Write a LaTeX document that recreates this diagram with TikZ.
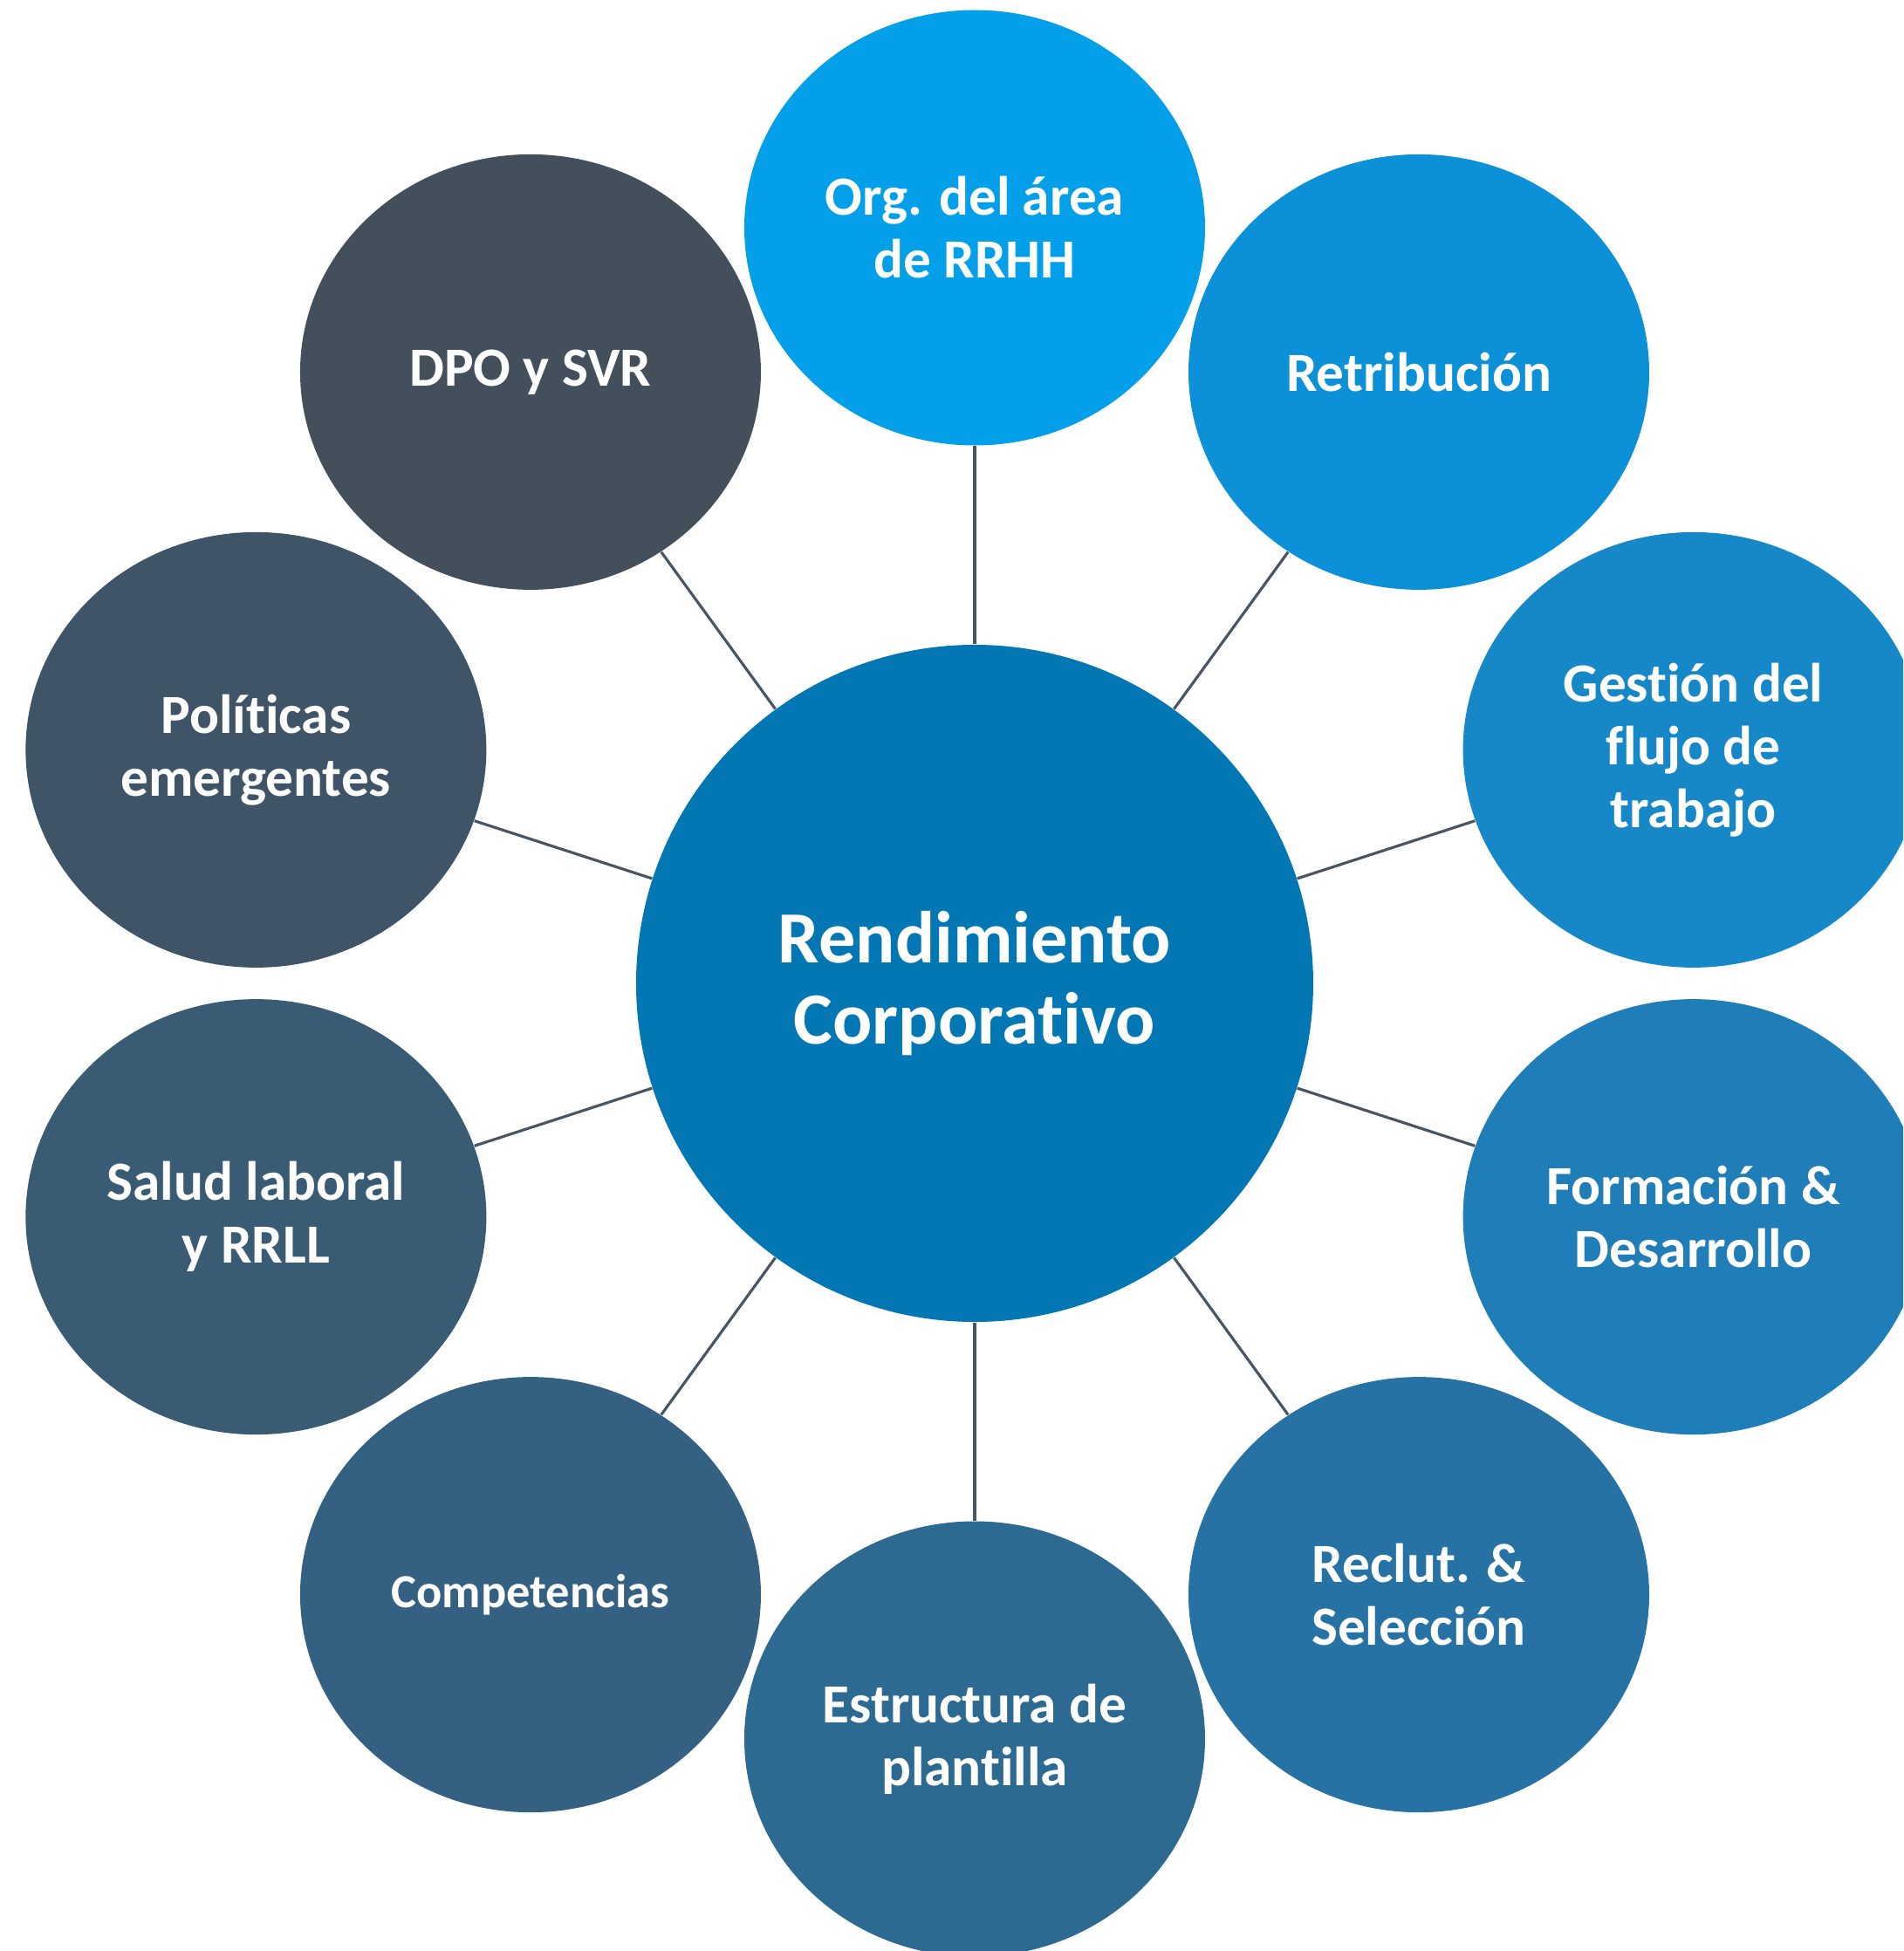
\documentclass[tikz,border=0pt]{standalone}
\usepackage{fontspec}
\setmainfont{Carlito}[RawFeature={-liga;-clig;-dlig;-calt}]
\usetikzlibrary{shapes.geometric}

\definecolor{azulorg}{HTML}{03A0E9}
\definecolor{azulret}{HTML}{0C91D8}
\definecolor{azulges}{HTML}{1688C8}
\definecolor{azulfor}{HTML}{1F7DB7}
\definecolor{azulrec}{HTML}{2672A4}
\definecolor{azulest}{HTML}{2D6A91}
\definecolor{azulcom}{HTML}{346081}
\definecolor{azulsal}{HTML}{3A5B74}
\definecolor{azulpol}{HTML}{3F5567}
\definecolor{azuldpo}{HTML}{434F5B}
\definecolor{azulcentro}{HTML}{0277B4}
\definecolor{gris}{HTML}{495560}

\tikzset{
  burbuja/.style={ellipse, minimum width=5.28cm, minimum height=4.99cm, inner sep=0pt,
    text=white, align=center, font=\bfseries\fontsize{18}{20.5}\selectfont},
  centro/.style={circle, minimum size=7.76cm, inner sep=0pt, fill=azulcentro,
    text=white, align=center, font=\bfseries\fontsize{24}{26.5}\selectfont},
  enlace/.style={draw=gris, line width=0.9pt}
}

\begin{document}
\begin{tikzpicture}

    % marco
    \useasboundingbox (-11.17,-11.09) rectangle (10.64,11.27);
    \clip (-11.17,-11.09) rectangle (10.64,11.27);

    % circulo central
    \node [centro] (rend) at (0,0) {Rendimiento\\Corporativo};

    % burbujas alrededor
    \node [burbuja, fill=azulorg] (org) at (90:8.66) {Org. del área\\de RRHH};
    \node [burbuja, fill=azulret] (ret) at (54:8.66) {Retribución};
    \node [burbuja, fill=azulges] (ges) at (18:8.66) {Gestión del\\flujo de\\trabajo};
    \node [burbuja, fill=azulfor] (for) at (-18:8.66) {Formación \&\\Desarrollo};
    \node [burbuja, fill=azulrec] (rec) at (-54:8.66) {Reclut. \&\\Selección};
    \node [burbuja, fill=azulest] (est) at (-90:8.66) {Estructura de\\plantilla};
    \node [burbuja, fill=azulcom, font=\bfseries\fontsize{15.5}{18}\selectfont] (com) at (-126:8.66) {Competencias};
    \node [burbuja, fill=azulsal] (sal) at (-162:8.66) {Salud laboral\\y RRLL};
    \node [burbuja, fill=azulpol] (pol) at (162:8.66) {Políticas\\emergentes};
    \node [burbuja, fill=azuldpo] (dpo) at (126:8.66) {DPO y SVR};

    % enlaces
    \draw [enlace] (rend) -- (org);
    \draw [enlace] (rend) -- (ret);
    \draw [enlace] (rend) -- (ges);
    \draw [enlace] (rend) -- (for);
    \draw [enlace] (rend) -- (rec);
    \draw [enlace] (rend) -- (est);
    \draw [enlace] (rend) -- (com);
    \draw [enlace] (rend) -- (sal);
    \draw [enlace] (rend) -- (pol);
    \draw [enlace] (rend) -- (dpo);

\end{tikzpicture}
\end{document}
